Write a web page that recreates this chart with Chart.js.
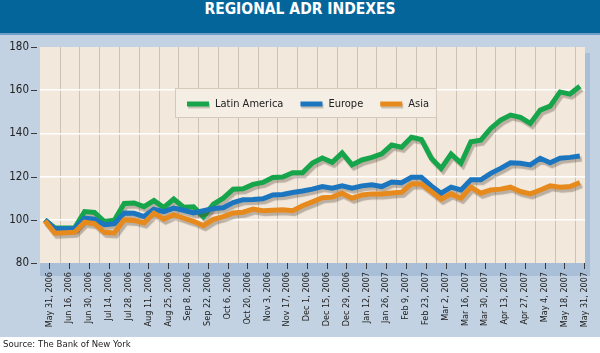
<!DOCTYPE html>
<html>
<head>
<meta charset="utf-8">
<script src="https://cdn.jsdelivr.net/npm/chart.js@4/dist/chart.umd.min.js"></script>
<style>
  html, body { margin: 0; padding: 0; background: #ffffff; }
  #wrap { position: relative; width: 600px; height: 353px; overflow: hidden; }
  canvas { position: absolute; left: 0; top: 0; }
  #title {
    position: absolute; left: 0; top: 0; width: 600px; height: 33px;
    background: #04659b; border-bottom: 2px solid #6f9fc8;
    color: #ffffff; text-align: center; line-height: 33px;
    font: bold 15.5px 'DejaVu Sans Condensed', 'Liberation Sans Narrow', 'Liberation Sans', sans-serif;
  }
  #source {
    position: absolute; left: 3px; top: 338px; color: #222;
    font: 9.5px 'DejaVu Sans Condensed', 'Liberation Sans Narrow', 'Liberation Sans', sans-serif;
  }
</style>
</head>
<body>
<div id="wrap">
  <canvas id="chart" width="600" height="353"></canvas>
  <div id="title">REGIONAL ADR INDEXES</div>
  <div id="source">Source: The Bank of New York</div>
</div>
<script>
// ---- data ----
const tickLabels = [
  'May 31, 2006', 'Jun 16, 2006', 'Jun 30, 2006', 'Jul 14, 2006', 'Jul 28, 2006',
  'Aug 11, 2006', 'Aug 25, 2006', 'Sep 8, 2006', 'Sep 22, 2006', 'Oct 6, 2006',
  'Oct 20, 2006', 'Nov 3, 2006', 'Nov 17, 2006', 'Dec 1, 2006', 'Dec 15, 2006',
  'Dec 29, 2006', 'Jan 12, 2007', 'Jan 26, 2007', 'Feb 9, 2007', 'Feb 23, 2007',
  'Mar 2, 2007', 'Mar 16, 2007', 'Mar 30, 2007', 'Apr 13, 2007', 'Apr 27, 2007',
  'May 4, 2007', 'May 18, 2007', 'May 31, 2007'
];

// weekly index values (one per week, two weeks per axis label)
const latinAmerica = [
  100, 96.2, 96.2, 96.3, 103.8, 103.4, 99.2, 99.8, 107.6, 107.8,
  106.1, 108.9, 105.7, 109.6, 105.8, 106.0, 101.4, 107.2, 110.0, 114.2,
  114.4, 116.4, 117.3, 119.6, 119.8, 121.8, 121.8, 126.3, 128.6, 126.6,
  131.0, 125.4, 127.7, 128.9, 130.5, 134.6, 133.6, 138.2, 137.2, 128.5,
  123.8, 130.4, 126.2, 136.1, 136.9, 142.3, 146.2, 148.5, 147.4, 144.6,
  150.8, 152.6, 159.2, 158.2, 161.8
];
const europe = [
  100, 95.8, 95.8, 96.0, 100.8, 100.3, 97.7, 98.2, 103.1, 103.0,
  101.5, 104.9, 103.8, 105.4, 104.4, 103.2, 104.2, 105.2, 105.6, 108.0,
  109.3, 109.4, 109.7, 111.5, 111.7, 112.6, 113.3, 114.2, 115.4, 114.6,
  115.7, 114.6, 115.7, 116.2, 115.4, 117.5, 117.2, 119.7, 119.7, 115.7,
  112.3, 115.1, 113.8, 118.5, 118.5, 121.5, 123.8, 126.4, 126.2, 125.4,
  128.5, 126.4, 128.5, 128.9, 129.5
];
const asia = [
  99.5, 93.8, 94.0, 94.2, 98.9, 98.2, 94.2, 93.9, 100.0, 99.7,
  98.5, 103.1, 100.3, 102.3, 100.8, 99.3, 97.3, 100.2, 101.5, 103.2,
  103.5, 105.0, 104.2, 104.4, 104.7, 104.2, 106.5, 108.3, 110.2, 110.5,
  112.3, 110.0, 111.5, 112.0, 112.0, 112.4, 112.7, 116.6, 116.6, 113.1,
  109.5, 112.0, 110.0, 115.1, 112.3, 113.8, 114.2, 115.1, 113.1, 112.0,
  113.8, 115.7, 115.1, 115.4, 117.2
];
const seriesNames = ['Latin America', 'Europe', 'Asia'];
const yTickValues = [80, 100, 120, 140, 160, 180];

// ---- layout / style ----
const FONT = "'DejaVu Sans Condensed', 'Liberation Sans Narrow', 'Liberation Sans', sans-serif";
const COLORS = ['#17a54b', '#1b76bf', '#e68a1e'];
const FIRST_WEEK_OFFSET = -0.22;   // first weekly observation, in label slots
const WEEKS_PER_LABEL = 2;
const X_MIN = -0.47, X_MAX = 27.04;

function toPoints(arr) {
  return arr.map((v, k) => ({ x: FIRST_WEEK_OFFSET + k / WEEKS_PER_LABEL, y: v }));
}

const decor = {
  id: 'decor',
  beforeDraw(chart) {
    const { ctx, chartArea: a } = chart;
    ctx.save();
    ctx.fillStyle = '#c3d2e2';
    ctx.fillRect(0, 34, chart.width, 303);
    ctx.fillStyle = '#a9bfd8';
    ctx.fillRect(a.left, a.top + 6, a.width + 5, a.height + 7);
    ctx.fillStyle = '#f2e8dc';
    ctx.fillRect(a.left, a.top, a.width, a.height);
    ctx.restore();
  },
  beforeDatasetsDraw(chart) {
    const ctx = chart.ctx;
    ctx.save();
    ctx.shadowColor = 'rgba(70,55,40,0.32)';
    ctx.shadowOffsetX = 2;
    ctx.shadowOffsetY = 3;
    ctx.shadowBlur = 1;
  },
  afterDatasetsDraw(chart) {
    const ctx = chart.ctx;
    ctx.restore();
    // legend box
    const a = chart.chartArea;
    const left = a.left + 135, top = a.top + 41, h = 30;
    ctx.save();
    ctx.font = '11px ' + FONT;
    const items = chart.data.datasets.map(d => ({ label: d.label, color: d.borderColor, w: ctx.measureText(d.label).width }));
    let x = left + 12;
    const pos = [];
    items.forEach(it => { pos.push(x); x += 22 + 6 + it.w + 17; });
    const right = x - 17 + 8;
    ctx.fillStyle = '#f5eee4';
    ctx.fillRect(left, top, right - left, h);
    ctx.strokeStyle = '#d5c9ba';
    ctx.lineWidth = 1;
    ctx.strokeRect(left + 0.5, top + 0.5, right - left - 1, h - 1);
    const cy = top + 16;
    items.forEach((it, i) => {
      const px = pos[i];
      ctx.save();
      ctx.shadowColor = 'rgba(70,55,40,0.25)';
      ctx.shadowOffsetX = 1; ctx.shadowOffsetY = 2;
      ctx.strokeStyle = it.color; ctx.lineWidth = 5; ctx.lineCap = 'butt';
      ctx.beginPath(); ctx.moveTo(px, cy); ctx.lineTo(px + 22, cy); ctx.stroke();
      ctx.restore();
      ctx.fillStyle = '#222';
      ctx.textBaseline = 'middle';
      ctx.fillText(it.label, px + 28, cy);
    });
    ctx.restore();
  },
  afterDraw(chart) {
    // short tick marks outside the plot, positioned by the library's scales
    const { ctx, chartArea: a, scales } = chart;
    ctx.save();
    ctx.strokeStyle = '#3a3a3a';
    ctx.lineWidth = 1;
    ctx.beginPath();
    scales.x.ticks.forEach(t => {
      const px = Math.round(scales.x.getPixelForValue(t.value)) + 0.5;
      ctx.moveTo(px, a.bottom); ctx.lineTo(px, a.bottom + 6);
    });
    scales.y.ticks.forEach(t => {
      const py = Math.round(scales.y.getPixelForValue(t.value)) + 0.5;
      ctx.moveTo(a.left - 9, py); ctx.lineTo(a.left - 3, py);
    });
    ctx.stroke();
    ctx.restore();
  }
};

const datasets = [latinAmerica, europe, asia].map((arr, i) => ({
  label: seriesNames[i],
  data: toPoints(arr),
  borderColor: COLORS[i],
  backgroundColor: COLORS[i],
  borderWidth: 5,
  pointRadius: 0,
  tension: 0,
  borderJoinStyle: 'miter',
  order: 3 - i
}));

new Chart(document.getElementById('chart'), {
  type: 'line',
  data: { datasets },
  options: {
    responsive: false,
    animation: false,
    layout: { padding: { top: 47, left: 0, right: 15, bottom: 19 } },
    plugins: { legend: { display: false }, tooltip: { enabled: false }, title: { display: false } },
    scales: {
      x: {
        type: 'linear', position: 'bottom', min: X_MIN, max: X_MAX,
        afterBuildTicks: s => { s.ticks = tickLabels.map((_, i) => ({ value: i })); },
        afterFit: s => { s.height = 71; },
        ticks: {
          autoSkip: false, minRotation: 90, maxRotation: 90, padding: 3,
          color: '#222', font: { family: FONT, size: 9 },
          callback: v => tickLabels[v] ?? ''
        },
        grid: { drawOnChartArea: false, drawTicks: true, tickLength: 6, tickColor: 'rgba(0,0,0,0)' },
        border: { display: false }
      },
      xg: {
        type: 'linear', position: 'top', min: X_MIN, max: X_MAX,
        afterBuildTicks: s => { s.ticks = tickLabels.slice(1).map((_, i) => ({ value: i + 0.54 })); },
        afterFit: s => { s.height = 0; },
        ticks: { display: false },
        grid: { color: '#cec2b3', lineWidth: 1, drawTicks: false },
        border: { display: false }
      },
      y: {
        min: 80, max: 180,
        afterBuildTicks: s => { s.ticks = yTickValues.map(v => ({ value: v })); },
        afterFit: s => { s.width = 40; },
        ticks: { padding: 2, color: '#222', font: { family: FONT, size: 11.5 } },
        grid: {
          color: c => (c.tick && (c.tick.value === 80 || c.tick.value === 180)) ? 'rgba(0,0,0,0)' : '#ffffff',
          lineWidth: 1.5, drawTicks: true, tickLength: 9, tickColor: 'rgba(0,0,0,0)'
        },
        border: { display: false }
      }
    }
  },
  plugins: [decor]
});
</script>
</body>
</html>
